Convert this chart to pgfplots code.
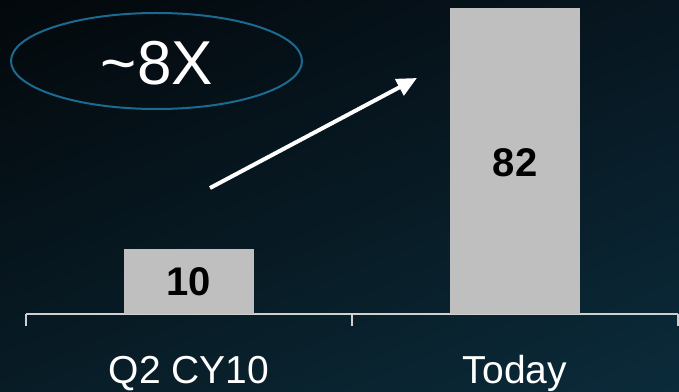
\documentclass[border=0pt]{standalone}
\usepackage{pgfplots}
\pgfplotsset{compat=1.18}
\usepackage{fontspec}
\setmainfont{Liberation Sans}
\usetikzlibrary{arrows.meta,shadings}
\definecolor{bgTL}{HTML}{03080B}
\definecolor{bgTR}{HTML}{071620}
\definecolor{bgBL}{HTML}{081C26}
\definecolor{bgBR}{HTML}{0B2B3A}
\definecolor{bargray}{HTML}{BFBFBF}
\definecolor{ellblue}{HTML}{1C6A90}
\definecolor{axgray}{HTML}{D0D0D0}
\begin{document}
\begin{tikzpicture}[x=1pt,y=1pt]
\useasboundingbox (0,0) rectangle (679,391);
\shade[upper left=bgTL, upper right=bgTR, lower left=bgBL, lower right=bgBR] (0,0) rectangle (679,391);
\begin{axis}[
  at={(26pt,77pt)}, anchor=south west,
  scale only axis, width=652pt, height=314pt,
  xmin=-0.5, xmax=1.5,
  ymin=-9.42, ymax=84.4,
  y coord trafo/.code={\pgfmathparse{#1+9.42}},
  y coord inv trafo/.code={\pgfmathparse{#1-9.42}},
  axis y line=none,
  axis x line*=bottom,
  axis line style={axgray, line width=1.5pt},
  xtick={0,1},
  xticklabels={Q2 CY10, Today},
  minor xtick={-0.5,0.5,1.5},
  major tick length=0pt,
  minor tick length=12pt,
  tick align=outside,
  every tick/.style={axgray, line width=1.5pt},
  minor tick style={axgray, line width=1.5pt},
  xticklabel style={font=\fontsize{39}{39}\selectfont, text=white, anchor=base, yshift=-69pt},
  ybar, bar width=130pt,
  clip=false,
  point meta=explicit symbolic,
  nodes near coords,
  nodes near coords style={font=\bfseries\fontsize{40}{40}\selectfont, text=black, anchor=center},
]
\addplot[fill=bargray, draw=none, bar shift=0pt, every node near coord/.append style={yshift=-32.5pt}] coordinates {(0,10)[10]};
\addplot[fill=bargray, draw=none, bar shift=0pt, every node near coord/.append style={yshift=-154.5pt}] coordinates {(1,82)[82]};
\end{axis}
\draw[ellblue, line width=2pt] (156.5,330) ellipse [x radius=145.5, y radius=48];
\node[text=white, font=\fontsize{62}{62}\selectfont, anchor=base, inner sep=0pt] at (157,306) {\char`~8X};
\draw[white, line width=4pt, -{Triangle[length=20pt, width=18pt]}] (210,203) -- (417,313);
\end{tikzpicture}
\end{document}
